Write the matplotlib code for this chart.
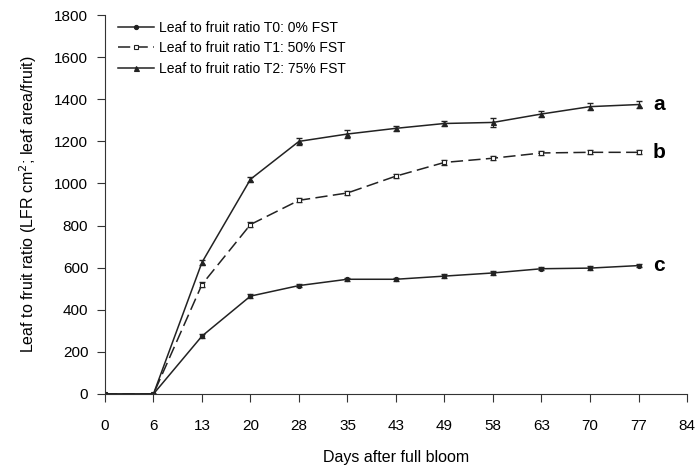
import matplotlib.pyplot as plt
import numpy as np

plt.rcParams['font.family'] = ['Liberation Sans', 'DejaVu Sans']

days = ["0", "6", "13", "20", "28", "35", "43", "49", "58", "63", "70", "77", "84"]
t0 = [0, 0, 275, 465, 515, 545, 545, 560, 575, 595, 598, 610]
t1 = [0, 0, 520, 805, 920, 955, 1035, 1100, 1120, 1145, 1148, 1148]
t2 = [0, 0, 625, 1020, 1200, 1235, 1262, 1285, 1290, 1330, 1365, 1375]
t0_err = [0, 0, 8, 8, 8, 8, 8, 8, 8, 8, 8, 8]
t1_err = [0, 0, 10, 10, 10, 10, 10, 10, 10, 10, 10, 10]
t2_err = [0, 0, 12, 12, 15, 18, 12, 12, 20, 15, 18, 15]
labels = ['Leaf to fruit ratio T0: 0% FST', 'Leaf to fruit ratio T1: 50% FST',
          'Leaf to fruit ratio T2: 75% FST']
letters = ["c", "b", "a"]

x = np.arange(len(t0))
col = '#222222'

fig = plt.figure(figsize=(6.95, 4.71), dpi=100)
ax = fig.add_axes([0.151, 0.1635, 0.8375, 0.8045])

styles = [dict(ls='-', marker='o', ms=3, mfc=col),
          dict(ls=(0, (8, 3.5)), marker='s', ms=3.2, mfc='white'),
          dict(ls='-', marker='^', ms=3.6, mfc=col)]
for vals, err, lab, st in zip([t0, t1, t2], [t0_err, t1_err, t2_err], labels, styles):
    ax.errorbar(x, vals, yerr=err, fmt='none', ecolor=col, elinewidth=0.8, capsize=2)
    ax.plot(x, vals, color=col, lw=1.1, mec=col, mew=0.8, label=lab, **st)

for vals, let in zip([t0, t1, t2], letters):
    ax.text(x[-1] + 0.3, vals[-1], let, fontsize=15, fontweight='bold', va='center')

ax.set_xlim(0, len(days) - 1)
ax.set_ylim(0, 1800)
ax.set_xticks(np.arange(len(days)))
ax.set_xticklabels(days)
ax.set_yticks(np.arange(0, 1801, 200))
ax.tick_params(labelsize=11, direction='out', length=6, color='#333333')
ax.tick_params(axis='x', pad=12)
ax.tick_params(axis='y', pad=6)
for s in ['top', 'right']:
    ax.spines[s].set_visible(False)
for s in ['left', 'bottom']:
    ax.spines[s].set_color('#333333')
ax.set_xlabel('Days after full bloom', fontsize=11.5, labelpad=12)
ax.set_ylabel('Leaf to fruit ratio (LFR cm$^2$; leaf area/fruit)', fontsize=11.5, labelpad=11)

ax.legend(loc='upper left', bbox_to_anchor=(0.005, 1.01), frameon=False, fontsize=10,
          handlelength=2.6, handletextpad=0.4, labelspacing=0.45, borderaxespad=0.3)

fig.savefig('out.png', dpi=100)
